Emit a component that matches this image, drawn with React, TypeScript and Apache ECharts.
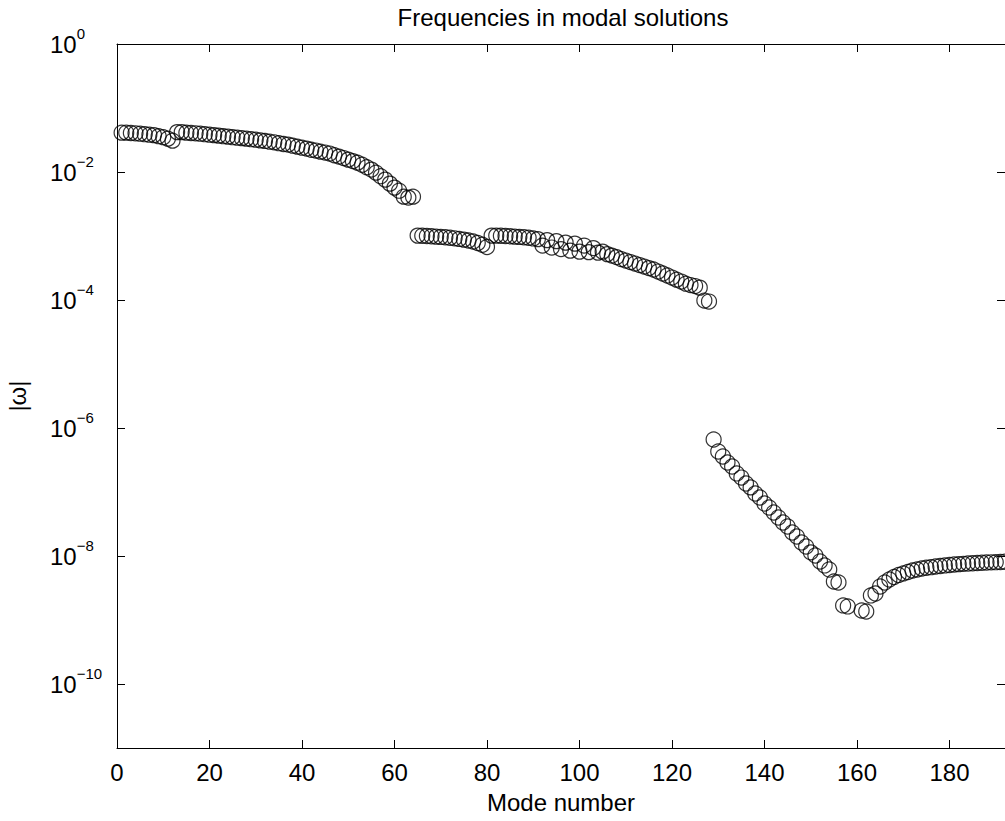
import React, { useEffect, useRef } from "react";
import * as echarts from "echarts";

// |omega| per mode number, split by segment (start mode given for each)
const startA = 1;
const segA = [0.0412, 0.0412, 0.0407, 0.0402, 0.0397, 0.039, 0.0383, 0.0377, 0.0363, 0.035, 0.0332, 0.0309];

const startB = 13;
const segB = [
  0.042, 0.042, 0.0412, 0.0407, 0.0402, 0.0397, 0.039, 0.0383, 0.0377, 0.037,
  0.0363, 0.0357, 0.035, 0.0344, 0.0338, 0.0332, 0.0326, 0.032, 0.0312, 0.0306,
  0.0298, 0.0291, 0.0282, 0.0274, 0.0268, 0.0258, 0.0249, 0.024, 0.0232, 0.0223,
  0.0216, 0.0208, 0.0201, 0.0194, 0.0183, 0.0174, 0.0165, 0.0156, 0.0148, 0.014,
  0.013, 0.0119, 0.0109, 0.00977, 0.00861, 0.0076, 0.00658, 0.0057, 0.00511, 0.00412,
  0.00398, 0.00412,
];

const startC = 65;
const segC = [
  1.014e-3, 1.007e-3, 1.0e-3, 0.989e-3, 0.978e-3, 0.968e-3, 0.954e-3, 0.937e-3,
  0.92e-3, 0.9e-3, 0.878e-3, 0.851e-3, 0.822e-3, 0.779e-3, 0.731e-3, 0.672e-3,
];

const startD = 81;
const segD = [
  1.014e-3, 1.014e-3, 1.007e-3, 1.0e-3, 0.989e-3, 0.978e-3, 0.968e-3, 0.954e-3, 0.937e-3, 0.917e-3,
  0.894e-3, 0.708e-3, 0.862e-3, 0.659e-3, 0.832e-3, 0.624e-3, 0.788e-3, 0.591e-3, 0.76e-3, 0.57e-3,
  0.708e-3, 0.56e-3, 0.647e-3, 0.55e-3, 0.57e-3, 0.521e-3, 0.494e-3, 0.468e-3, 0.436e-3, 0.413e-3,
  0.391e-3, 0.371e-3, 0.351e-3, 0.333e-3, 0.315e-3, 0.299e-3, 0.278e-3, 0.259e-3, 0.241e-3, 0.224e-3,
  0.208e-3, 0.194e-3, 0.18e-3, 0.171e-3, 0.165e-3, 0.156e-3, 0.0979e-3, 0.0945e-3,
];

const startE = 129;
const segE = [
  6.61e-7, 4.29e-7, 3.58e-7, 2.89e-7, 2.5e-7, 1.95e-7, 1.68e-7, 1.36e-7, 1.18e-7, 9.48e-8,
  8.21e-8, 6.61e-8, 5.73e-8, 4.79e-8, 4.0e-8, 3.34e-8, 2.89e-8, 2.33e-8, 2.02e-8, 1.63e-8,
  1.41e-8, 1.14e-8, 1.02e-8, 8.22e-9, 7.12e-9, 6.16e-9, 4.0e-9, 3.86e-9, 1.69e-9, 1.63e-9,
];

const startF = 161;
const segF = [
  1.41e-9, 1.36e-9, 2.42e-9, 2.6e-9, 3.34e-9, 3.86e-9, 4.3e-9, 4.71e-9, 5.06e-9, 5.34e-9,
  5.63e-9, 5.94e-9, 6.16e-9, 6.39e-9, 6.55e-9, 6.69e-9, 6.86e-9, 6.99e-9, 7.12e-9, 7.24e-9,
  7.38e-9, 7.46e-9, 7.54e-9, 7.62e-9, 7.7e-9, 7.79e-9, 7.84e-9, 7.9e-9, 7.96e-9, 8.01e-9,
  8.07e-9, 8.13e-9,
];

const yTicks = [1e-10, 1e-8, 1e-6, 1e-4, 1e-2, 1];

const TITLE = "Frequencies in modal solutions";
const X_NAME = "Mode number";
const Y_NAME = "|ω|";

const FONT = "'Liberation Sans', Arial, Helvetica, sans-serif";

function build(start: number, vals: number[]) {
  return vals.map((v, i) => [start + i, v]);
}

export default function App() {
  const ref = useRef<HTMLDivElement>(null);
  useEffect(() => {
    if (!ref.current) return;
    const chart = echarts.init(ref.current, undefined, { renderer: "svg" });
    const data = [
      ...build(startA, segA),
      ...build(startB, segB),
      ...build(startC, segC),
      ...build(startD, segD),
      ...build(startE, segE),
      ...build(startF, segF),
    ];
    const fmtY = (v: number) => {
      const e = Math.round(Math.log10(v));
      const s = e < 0 ? "\u2212" + -e : String(e);
      return "{b|10}{s|" + s + "}";
    };
    const lineStyle = { color: "#000", width: 1 };
    const xCommon = {
      type: "value" as const,
      min: 0,
      max: 192,
      interval: 20,
      splitLine: { show: false },
      axisLine: { show: true, onZero: false, lineStyle },
      axisTick: { show: true, inside: true, length: 8, lineStyle },
    };
    const yCommon = {
      type: "log" as const,
      logBase: 10,
      min: 1e-11,
      max: 1,
      splitLine: { show: false },
      minorTick: { show: false },
      axisLine: { show: true, onZero: false, lineStyle },
      axisTick: { show: true, inside: true, length: 8, lineStyle, customValues: yTicks },
    };
    chart.setOption({
      animation: false,
      backgroundColor: "#fff",
      textStyle: { fontFamily: FONT },
      grid: { left: 117, top: 44, right: -5, bottom: 73, containLabel: false },
      graphic: [
        {
          type: "text",
          x: 563,
          y: 17,
          style: {
            text: TITLE,
            fill: "#000",
            font: "24px " + FONT,
            textAlign: "center",
            textVerticalAlign: "middle",
          },
        },
        {
          type: "text",
          x: 17,
          y: 396,
          rotation: Math.PI / 2,
          style: {
            text: Y_NAME,
            fill: "#000",
            font: "24px " + FONT,
            textAlign: "center",
            textVerticalAlign: "middle",
          },
        },
      ],
      xAxis: [
        {
          ...xCommon,
          position: "bottom",
          name: X_NAME,
          nameLocation: "middle",
          nameGap: 42,
          nameTextStyle: { fontSize: 24, color: "#000", fontFamily: FONT },
          axisLabel: {
            show: true,
            margin: 12,
            fontSize: 24,
            color: "#000",
            fontFamily: FONT,
            showMaxLabel: false,
          },
        },
        {
          ...xCommon,
          position: "top",
          axisLabel: { show: false },
        },
      ],
      yAxis: [
        {
          ...yCommon,
          position: "left",
          axisLabel: {
            show: true,
            customValues: yTicks,
            align: "left",
            margin: 67,
            color: "#000",
            formatter: fmtY,
            rich: {
              b: { fontSize: 24, lineHeight: 36, color: "#000", fontFamily: FONT },
              s: { fontSize: 15, lineHeight: 16, verticalAlign: "top", color: "#000", fontFamily: FONT },
            },
          },
        },
        {
          ...yCommon,
          position: "right",
          axisLabel: { show: false },
        },
      ],
      series: [
        {
          type: "scatter",
          xAxisIndex: 0,
          yAxisIndex: 0,
          symbol: "circle",
          symbolSize: 15,
          itemStyle: { color: "rgba(0,0,0,0)", borderColor: "#000", borderWidth: 1.2 },
          data,
        },
      ],
    });
    return () => chart.dispose();
  }, []);
  return (
    <div
      ref={ref}
      style={{ position: "fixed", left: 0, top: 0, width: 1005, height: 821, background: "#fff" }}
    />
  );
}
